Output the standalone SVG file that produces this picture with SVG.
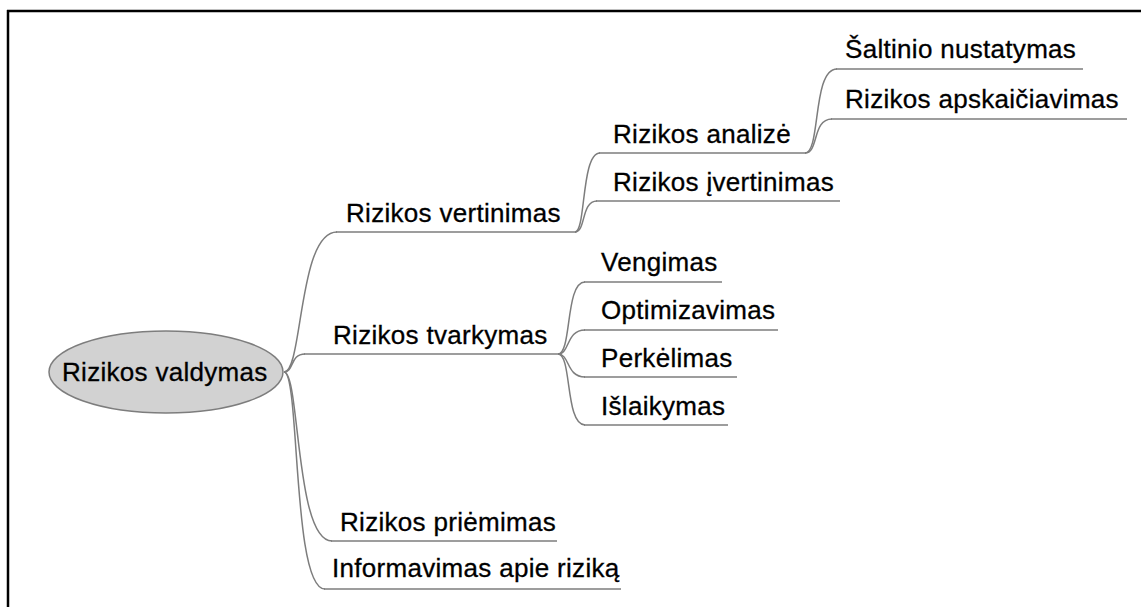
<svg xmlns="http://www.w3.org/2000/svg" width="1141" height="607" viewBox="0 0 1141 607">
  <style>
    .frame { stroke: #000; stroke-width: 2.5; fill: none; }
    .label { font-family: "Liberation Sans", Arial, sans-serif; font-size: 26px; letter-spacing: 0.3px; fill: #000; stroke: #000; stroke-width: 0.3; }
    .under { stroke: #7d7d7d; stroke-width: 1.6; fill: none; }
    .link { stroke: #7d7d7d; stroke-width: 1.5; fill: none; }
    .root { fill: #d2d2d2; stroke: #7d7d7d; stroke-width: 1.5; }
  </style>

  <rect width="1141" height="607" fill="#fff"/>
  <!-- outer frame (top and left edges) -->
  <path class="frame" d="M7,11 H1141 M8,10 V607"/>

  <!-- curved connectors -->
  <g id="connectors">
    <path class="link" d="M284,372 C303,372 298,232 337,232"/>
    <path class="link" d="M284,372 C294,372 290,354 305,354"/>
    <path class="link" d="M284,372 C300,372 295,541 332,541"/>
    <path class="link" d="M284,372 C300,372 292,589 325,589"/>

    <path class="link" d="M575,232 C586,232 581,153 600,153"/>
    <path class="link" d="M575,232 C586,232 581,201 597,201"/>

    <path class="link" d="M558,354 C572,354 565,282 585,282"/>
    <path class="link" d="M558,354 C570,354 566,330 585,330"/>
    <path class="link" d="M558,354 C570,354 566,377 585,377"/>
    <path class="link" d="M558,354 C572,354 565,425 585,425"/>

    <path class="link" d="M805,153 C821,153 812,69 837,69"/>
    <path class="link" d="M805,153 C819,153 812,119 832,119"/>
  </g>

  <g id="root">
    <ellipse class="root" cx="166" cy="372" rx="117" ry="41"/>
    <text class="label" x="62" y="381">Rizikos valdymas</text>
  </g>

  <g id="n-vertinimas">
    <text class="label" x="346" y="222">Rizikos vertinimas</text>
    <line class="under" x1="336" y1="232" x2="576" y2="232"/>
  </g>
  <g id="n-tvarkymas">
    <text class="label" x="333" y="344">Rizikos tvarkymas</text>
    <line class="under" x1="304" y1="354" x2="559" y2="354"/>
  </g>
  <g id="n-priemimas">
    <text class="label" x="340" y="531">Rizikos priėmimas</text>
    <line class="under" x1="331" y1="541" x2="557" y2="541"/>
  </g>
  <g id="n-informavimas">
    <text class="label" x="332" y="577">Informavimas apie riziką</text>
    <line class="under" x1="324" y1="589" x2="621" y2="589"/>
  </g>

  <g id="n-analize">
    <text class="label" x="613" y="143">Rizikos analizė</text>
    <line class="under" x1="599" y1="153" x2="806" y2="153"/>
  </g>
  <g id="n-ivertinimas">
    <text class="label" x="613" y="191">Rizikos įvertinimas</text>
    <line class="under" x1="596" y1="201" x2="840" y2="201"/>
  </g>

  <g id="n-vengimas">
    <text class="label" x="601" y="271">Vengimas</text>
    <line class="under" x1="584" y1="282" x2="722" y2="282"/>
  </g>
  <g id="n-optimizavimas">
    <text class="label" x="601" y="319">Optimizavimas</text>
    <line class="under" x1="584" y1="330" x2="778" y2="330"/>
  </g>
  <g id="n-perkelimas">
    <text class="label" x="601" y="367">Perkėlimas</text>
    <line class="under" x1="584" y1="377" x2="737" y2="377"/>
  </g>
  <g id="n-islaikymas">
    <text class="label" x="601" y="415">Išlaikymas</text>
    <line class="under" x1="584" y1="425" x2="728" y2="425"/>
  </g>

  <g id="n-saltinio">
    <text class="label" x="845" y="58">Šaltinio nustatymas</text>
    <line class="under" x1="836" y1="69" x2="1083" y2="69"/>
  </g>
  <g id="n-apskaiciavimas">
    <text class="label" x="845" y="108">Rizikos apskaičiavimas</text>
    <line class="under" x1="831" y1="119" x2="1127" y2="119"/>
  </g>
</svg>
